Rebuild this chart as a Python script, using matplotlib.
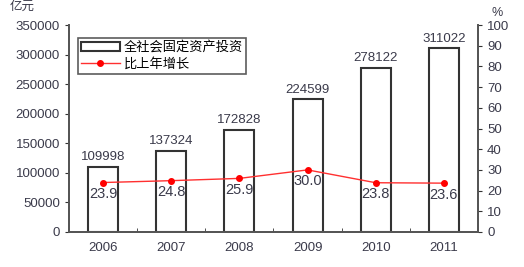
import matplotlib.pyplot as plt
import numpy as np

plt.rcParams['font.family'] = ['Liberation Sans', 'Noto Sans CJK SC', 'DejaVu Sans']

years = ['2006', '2007', '2008', '2009', '2010', '2011']
invest = [109998, 137324, 172828, 224599, 278122, 311022]
growth = [23.9, 24.8, 25.9, 30.0, 23.8, 23.6]

txt = '#3a3a4a'
fig = plt.figure(figsize=(5.24, 2.67), dpi=100)
ax = fig.add_axes([69/524, 1-232/267, 409/524, 207/267])
x = np.arange(len(years))

bars = ax.bar(x, invest, width=0.44, facecolor='white', edgecolor='#333333',
              linewidth=1.5, label='全社会固定资产投资')
for xi, v in zip(x, invest):
    ax.text(xi, v + 6000, str(v), ha='center', va='bottom', fontsize=9.5, color=txt)

ax.set_xlim(-0.5, len(years) - 0.5)
ax.set_ylim(0, 350000)
ax.set_yticks(np.arange(0, 350001, 50000))
ax.set_xticks(x)
ax.set_xticklabels(years)
ax.set_xticks(np.arange(0.5, len(years) - 1, 1), minor=True)
ax.tick_params(axis='x', which='major', length=0, pad=7, labelsize=9.5, labelcolor=txt)
ax.tick_params(axis='x', which='minor', direction='in', length=3, color='#333333')
ax.tick_params(axis='y', direction='out', length=3, labelsize=9.5, labelcolor=txt, color='#333333')
ax.spines['top'].set_visible(False)
for s in ['left', 'bottom', 'right']:
    ax.spines[s].set_color('#555555')
    ax.spines[s].set_linewidth(1.3)

ax2 = ax.twinx()
line, = ax2.plot(x, growth, color='#ff3030', linewidth=1, marker='o', markersize=4,
                 markerfacecolor='#ff0000', markeredgecolor='#ff0000', label='比上年增长')
for xi, v in zip(x, growth):
    ax2.text(xi, v - 2.2, f'{v:.1f}', ha='center', va='top', fontsize=10.5, color=txt)
ax2.set_ylim(0, 100)
ax2.set_yticks(np.arange(0, 101, 10))
ax2.tick_params(axis='y', direction='out', length=3, labelsize=9.5, labelcolor=txt, color='#333333')
ax2.spines['top'].set_visible(False)
for s in ['left', 'bottom', 'right']:
    ax2.spines[s].set_color('#555555')
    ax2.spines[s].set_linewidth(1.3)

leg = ax.legend([bars, line], ['全社会固定资产投资', '比上年增长'], loc='upper left',
                bbox_to_anchor=(9/409, 1-13/207), fontsize=9.5, frameon=True, fancybox=False,
                handlelength=2.9, borderpad=0.25, labelspacing=0.25, handletextpad=0.3,
                borderaxespad=0)
leg.get_frame().set_edgecolor('#333333')
leg.get_frame().set_linewidth(1.2)

fig.text(10/524, 1-7/267, '亿元', fontsize=9, color=txt, va='center')
fig.text(492/524, 1-13/267, '%', fontsize=9, color=txt, va='center')

fig.savefig('out.png', dpi=100)
